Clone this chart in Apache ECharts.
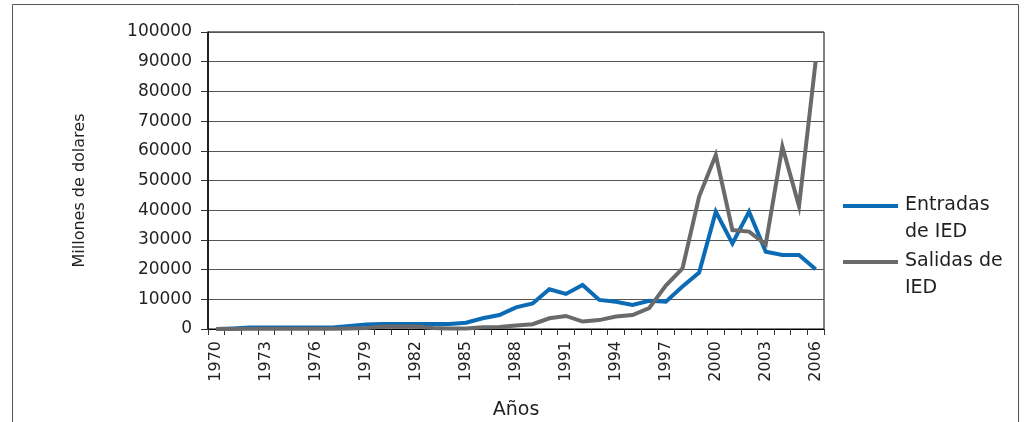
<!DOCTYPE html>
<html>
<head>
<meta charset="utf-8">
<script src="https://cdn.jsdelivr.net/npm/echarts@6/dist/echarts.min.js"></script>
<style>
html,body{margin:0;padding:0;background:#fff;}
#chart{width:1030px;height:422px;}
</style>
</head>
<body>
<div id="chart"></div>
<script>
var years = [];
for (var y = 1970; y <= 2006; y++) { years.push(String(y)); }

var entradas = [0, 200, 500, 500, 500, 500, 500, 500, 1000, 1500,
  1700, 1700, 1700, 1700, 1700, 2100, 3600, 4700, 7300, 8600,
  13400, 11800, 14800, 9800, 9200, 8100, 9500, 9200, 14300, 19000,
  39500, 28800, 39500, 26000, 24900, 24900, 20100];

var salidas = [0, 0, 100, 100, 100, 100, 100, 100, 200, 300,
  800, 800, 800, 300, 200, 200, 600, 700, 1200, 1600,
  3600, 4400, 2500, 3000, 4200, 4700, 7000, 14600, 20400, 44600,
  58600, 33300, 32800, 28500, 61400, 41400, 90200];

var seriesNames = ['Entradas\nde IED', 'Salidas de\nIED'];
var yAxisName = 'Millones de dolares';
var xAxisName = 'Años';

var FONT = 'DejaVu Sans';
var TXT = '#231f20';

var chart = echarts.init(document.getElementById('chart'), null, {renderer: 'canvas'});
chart.setOption({
  animation: false,
  backgroundColor: '#fff',
  graphic: [{
    type: 'rect', silent: true, z: -10,
    shape: {x: 12.5, y: 4.5, width: 1006, height: 440},
    style: {fill: 'none', stroke: '#555', lineWidth: 1}
  }],
  grid: {left: 208, top: 32, right: 206, bottom: 93, show: true, borderColor: '#000', borderWidth: 1,
    backgroundColor: 'transparent', containLabel: false, outerBoundsMode: 'none'},
  legend: {
    orient: 'vertical',
    left: 843, top: 192, padding: 0,
    itemWidth: 55, itemHeight: 30, itemGap: 2,
    icon: 'path://M0,0L55,0L55,4L0,4Z M0,30L1,30L0,30Z',
    textStyle: {fontFamily: FONT, fontSize: 19, color: TXT, lineHeight: 27, padding: [0, 0, 0, 2]},
    data: seriesNames
  },
  xAxis: {
    type: 'category', data: years, boundaryGap: true,
    name: xAxisName, nameLocation: 'middle', nameGap: 72,
    nameTextStyle: {fontFamily: FONT, fontSize: 19, color: TXT},
    axisLine: {lineStyle: {color: '#000', width: 1}},
    axisTick: {show: true, interval: 0, length: 6, lineStyle: {color: '#333'}},
    axisLabel: {interval: 2, rotate: 90, margin: 12, fontFamily: FONT, fontSize: 16, color: TXT},
    splitLine: {show: false}
  },
  yAxis: {
    type: 'value', min: 0, max: 100000, interval: 10000,
    name: yAxisName, nameLocation: 'middle', nameGap: 120, nameRotate: 90,
    nameTextStyle: {fontFamily: FONT, fontSize: 16, color: TXT, padding: [0, 20, 0, 0]},
    axisLine: {show: true, lineStyle: {color: '#000', width: 1.5}},
    axisTick: {show: true, length: 7, lineStyle: {color: '#333'}},
    axisLabel: {margin: 16, fontFamily: FONT, fontSize: 17, color: TXT,
      formatter: function (v) { return String(v); }},
    splitLine: {show: true, lineStyle: {color: '#555', width: 1}}
  },
  series: [
    {name: seriesNames[0], type: 'line', data: entradas, symbol: 'none', color: '#0b6bb5',
      lineStyle: {width: 4, color: '#0b6bb5', join: 'miter'}},
    {name: seriesNames[1], type: 'line', data: salidas, symbol: 'none', color: '#6a6a6a',
      lineStyle: {width: 4, color: '#6a6a6a', join: 'miter'}}
  ]
});
</script>
</body>
</html>
